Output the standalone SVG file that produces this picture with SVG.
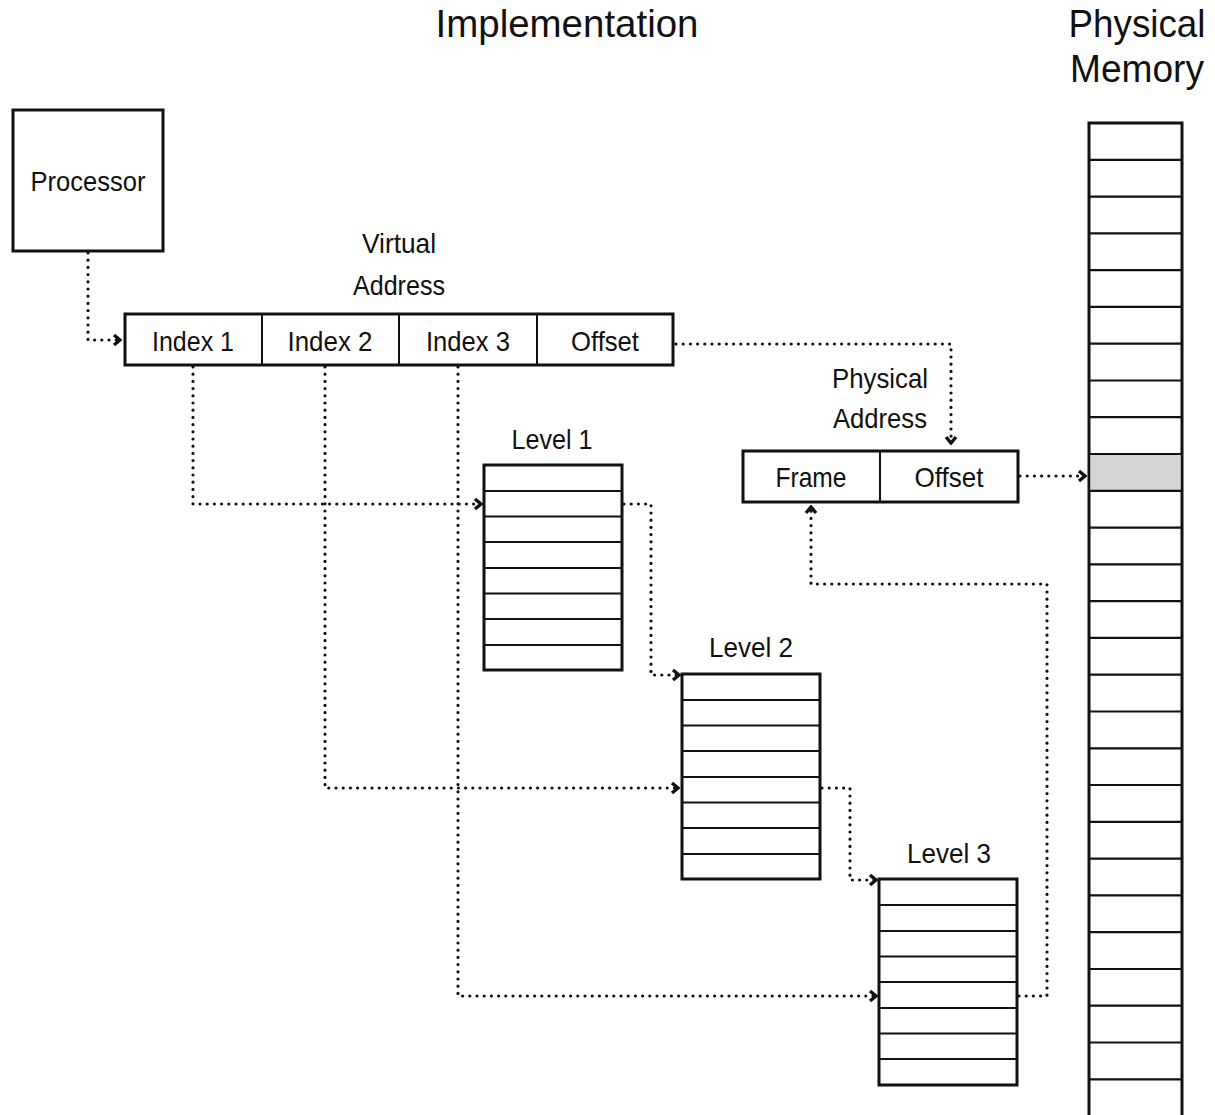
<svg xmlns="http://www.w3.org/2000/svg" width="1215" height="1115" viewBox="0 0 1215 1115">
  <style>
    .title { font-family: "Liberation Sans", Arial, sans-serif; font-size: 39px; fill: #111; text-anchor: middle; }
    .lbl { font-family: "Liberation Sans Narrow", "Liberation Sans", Arial, sans-serif; font-size: 28px; fill: #111; text-anchor: middle; }
    .box { fill: #fff; stroke: #111; stroke-width: 3; }
    .div { stroke: #111; stroke-width: 2; fill: none; }
    .row { stroke: #111; stroke-width: 2.2; fill: none; }
    .link { fill: none; stroke: #111; stroke-width: 3.2; stroke-dasharray: 0 7.2; stroke-linecap: round; marker-end: url(#chev); }
  </style>
  <defs>
    <marker id="chev" markerUnits="userSpaceOnUse" viewBox="-10 -8 12 16" refX="0" refY="0" markerWidth="12" markerHeight="16" orient="auto">
      <path d="M-6,-5 L0,0 L-6,5" fill="none" stroke="#111" stroke-width="3.4" stroke-linejoin="miter"/>
    </marker>
  </defs>

  <rect width="1215" height="1115" fill="#fff"/>

  <!-- headings -->
  <text class="title" x="567" y="37" textLength="263" lengthAdjust="spacingAndGlyphs">Implementation</text>
  <g id="memory-title">
    <text class="title" x="1137" y="37" textLength="137" lengthAdjust="spacingAndGlyphs">Physical</text>
    <text class="title" x="1137" y="82" textLength="134" lengthAdjust="spacingAndGlyphs">Memory</text>
  </g>

  <!-- connectors -->
  <g id="connectors">
    <path class="link" d="M88,253 V340 H120"/>
    <path class="link" d="M193,367 V504 H481"/>
    <path class="link" d="M325,367 V788 H678"/>
    <path class="link" d="M458,367 V996 H876"/>
    <path class="link" d="M624,504 H651 V675 H679"/>
    <path class="link" d="M822,788 H850 V880 H876"/>
    <path class="link" d="M1019,996 H1047 V584 H811 V507"/>
    <path class="link" d="M676,344 H951 V443"/>
    <path class="link" d="M1020,476 H1085"/>
  </g>

  <!-- processor -->
  <g id="processor">
    <rect class="box" x="13" y="110" width="150" height="141"/>
    <text class="lbl" x="88" y="191" textLength="115" lengthAdjust="spacingAndGlyphs">Processor</text>
  </g>

  <!-- virtual address -->
  <g id="virtual-address">
    <text class="lbl" x="399" y="253" textLength="74" lengthAdjust="spacingAndGlyphs">Virtual</text>
    <text class="lbl" x="399" y="295" textLength="92" lengthAdjust="spacingAndGlyphs">Address</text>
    <rect class="box" x="125" y="314" width="548" height="51"/>
    <path class="div" d="M262,314 V365 M399,314 V365 M537,314 V365"/>
    <text class="lbl" x="193" y="351" textLength="82" lengthAdjust="spacingAndGlyphs">Index 1</text>
    <text class="lbl" x="330" y="351" textLength="85" lengthAdjust="spacingAndGlyphs">Index 2</text>
    <text class="lbl" x="468" y="351" textLength="84" lengthAdjust="spacingAndGlyphs">Index 3</text>
    <text class="lbl" x="605" y="351" textLength="68" lengthAdjust="spacingAndGlyphs">Offset</text>
  </g>

  <!-- physical address -->
  <g id="physical-address">
    <text class="lbl" x="880" y="388" textLength="96" lengthAdjust="spacingAndGlyphs">Physical</text>
    <text class="lbl" x="880" y="428" textLength="94" lengthAdjust="spacingAndGlyphs">Address</text>
    <rect class="box" x="743" y="451" width="275" height="51"/>
    <path class="div" d="M880,451 V502"/>
    <text class="lbl" x="811" y="487" textLength="71" lengthAdjust="spacingAndGlyphs">Frame</text>
    <text class="lbl" x="949" y="487" textLength="69" lengthAdjust="spacingAndGlyphs">Offset</text>
  </g>

  <!-- level 1 table -->
  <g id="level1">
    <text class="lbl" x="552" y="449" textLength="81" lengthAdjust="spacingAndGlyphs">Level 1</text>
    <rect class="box" x="484" y="465" width="138" height="205"/>
    <path class="row" d="M484,491 H622 M484,516.5 H622 M484,542 H622 M484,568 H622 M484,593.5 H622 M484,619 H622 M484,645 H622"/>
  </g>

  <!-- level 2 table -->
  <g id="level2">
    <text class="lbl" x="751" y="657" textLength="84" lengthAdjust="spacingAndGlyphs">Level 2</text>
    <rect class="box" x="682" y="674" width="138" height="205"/>
    <path class="row" d="M682,700 H820 M682,725.5 H820 M682,751 H820 M682,777 H820 M682,802.5 H820 M682,828 H820 M682,854 H820"/>
  </g>

  <!-- level 3 table -->
  <g id="level3">
    <text class="lbl" x="949" y="863" textLength="84" lengthAdjust="spacingAndGlyphs">Level 3</text>
    <rect class="box" x="879" y="879" width="138" height="206"/>
    <path class="row" d="M879,905 H1017 M879,931 H1017 M879,956.5 H1017 M879,982 H1017 M879,1008 H1017 M879,1033.5 H1017 M879,1059 H1017"/>
  </g>

  <!-- physical memory frames -->
  <g id="physical-memory">
    <rect class="box" x="1089" y="123" width="93" height="1000"/>
    <rect x="1090.5" y="455" width="90" height="35" fill="#d4d4d4"/>
    <path class="row" d="
      M1089,159.8 H1182 M1089,196.6 H1182 M1089,233.3 H1182 M1089,270.1 H1182
      M1089,306.9 H1182 M1089,343.7 H1182 M1089,380.5 H1182 M1089,417.2 H1182
      M1089,454 H1182 M1089,490.8 H1182 M1089,527.6 H1182 M1089,564.4 H1182
      M1089,601.1 H1182 M1089,637.9 H1182 M1089,674.7 H1182 M1089,711.5 H1182
      M1089,748.3 H1182 M1089,785 H1182 M1089,821.8 H1182 M1089,858.6 H1182
      M1089,895.4 H1182 M1089,932.2 H1182 M1089,969 H1182 M1089,1005.7 H1182
      M1089,1042.5 H1182 M1089,1079.3 H1182"/>
  </g>
</svg>
